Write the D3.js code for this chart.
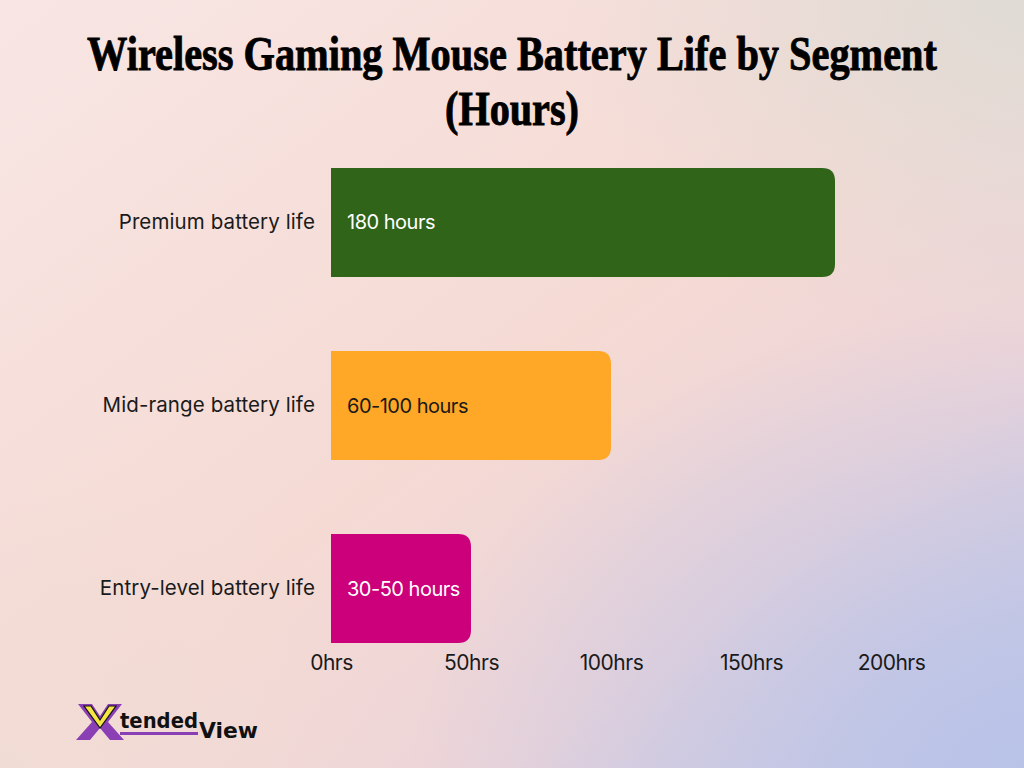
<!DOCTYPE html>
<html><head><meta charset="utf-8">
<script src="https://cdn.jsdelivr.net/npm/d3@7"></script>
<style>html,body{margin:0;padding:0;width:1024px;height:768px;overflow:hidden;}</style>
</head><body><div id="chart"></div>
<script>
const categories = ["Premium battery life", "Mid-range battery life", "Entry-level battery life"];
const values = [180, 100, 50];
const barLabels = ["180 hours", "60-100 hours", "30-50 hours"];
const barColors = ["#2f6419", "#ffa726", "#cc007a"];
const labelColors = ["#ffffff", "#1a1a1a", "#ffffff"];
const tickValues = [0, 50, 100, 150, 200];
const titleLines = ["Wireless Gaming Mouse Battery Life by Segment", "(Hours)"];

const W = 1024, H = 768;
const svg = d3.select("#chart").append("svg").attr("width", W).attr("height", H);
const defs = svg.append("defs");

const lg = defs.append("linearGradient").attr("id", "bg").attr("x1", 0).attr("y1", 0).attr("x2", 1).attr("y2", 1);
lg.append("stop").attr("offset", "0%").attr("stop-color", "#f8e6e4");
lg.append("stop").attr("offset", "50%").attr("stop-color", "#f5dad4");
lg.append("stop").attr("offset", "75%").attr("stop-color", "#ecd4d8");
lg.append("stop").attr("offset", "100%").attr("stop-color", "#c4c8e4");
svg.append("rect").attr("width", W).attr("height", H).attr("fill", "url(#bg)");

const rg = defs.append("radialGradient").attr("id", "rb").attr("cx", 1).attr("cy", 1).attr("r", 0.6);
rg.append("stop").attr("offset", "0%").attr("stop-color", "#b9c3e8").attr("stop-opacity", 1);
rg.append("stop").attr("offset", "100%").attr("stop-color", "#b9c3e8").attr("stop-opacity", 0);
svg.append("rect").attr("width", W).attr("height", H).attr("fill", "url(#rb)");

const rt = defs.append("radialGradient").attr("id", "rt").attr("cx", 1).attr("cy", 0).attr("r", 0.45);
rt.append("stop").attr("offset", "0%").attr("stop-color", "#dfdbd5").attr("stop-opacity", 1);
rt.append("stop").attr("offset", "100%").attr("stop-color", "#dfdbd5").attr("stop-opacity", 0);
svg.append("rect").attr("width", W).attr("height", H).attr("fill", "url(#rt)");

const rbl = defs.append("radialGradient").attr("id", "rbl").attr("cx", 0).attr("cy", 1).attr("r", 0.4);
rbl.append("stop").attr("offset", "0%").attr("stop-color", "#f1dcd5").attr("stop-opacity", 1);
rbl.append("stop").attr("offset", "100%").attr("stop-color", "#f1dcd5").attr("stop-opacity", 0);
svg.append("rect").attr("width", W).attr("height", H).attr("fill", "url(#rbl)");

// Title (condensed by horizontal scaling to the reference widths)
const titleWidths = [850, 134];
titleLines.forEach((line, i) => {
  const tg = svg.append("g");
  const t = tg.append("text")
    .attr("x", 0).attr("y", 70 + i * 55)
    .attr("text-anchor", "middle")
    .attr("font-family", "'Liberation Serif', 'DejaVu Serif', serif")
    .attr("font-weight", "bold")
    .attr("font-size", 48)
    .attr("fill", "#000")
    .attr("stroke", "#000")
    .attr("stroke-width", 0.9)
    .text(line);
  const natural = t.node().getComputedTextLength();
  const sx = titleWidths[i] / natural;
  tg.attr("transform", `translate(512,0) scale(${sx},1)`);
});

// Scales
const x = d3.scaleLinear().domain([0, 200]).range([331, 891]);
const y = d3.scaleBand().domain(categories).range([168, 643]).paddingInner(0.405).paddingOuter(0);

const r = 13;
function barPath(x0, y0, w, h) {
  const rr = Math.min(r, w / 2, h / 2);
  return `M${x0},${y0}H${x0 + w - rr}Q${x0 + w},${y0} ${x0 + w},${y0 + rr}V${y0 + h - rr}Q${x0 + w},${y0 + h} ${x0 + w - rr},${y0 + h}H${x0}Z`;
}

const g = svg.append("g");
g.selectAll("path.bar").data(categories).join("path")
  .attr("class", "bar")
  .attr("d", (d, i) => barPath(x(0), y(d), x(values[i]) - x(0), y.bandwidth()))
  .attr("fill", (d, i) => barColors[i]);

g.selectAll("text.val").data(categories).join("text")
  .attr("class", "val")
  .attr("x", x(0) + 16)
  .attr("y", d => y(d) + y.bandwidth() / 2)
  .attr("dy", "0.35em")
  .attr("font-family", "Inter, 'Noto Sans', sans-serif")
  .attr("font-size", 20)
  .attr("fill", (d, i) => labelColors[i])
  .style("letter-spacing", "-0.5px")
  .text((d, i) => barLabels[i]);

// Y axis (category labels)
const yAxis = d3.axisLeft(y).tickSize(0).tickPadding(16);
const ya = svg.append("g").attr("transform", `translate(${x(0)},0)`).call(yAxis);
ya.select(".domain").remove();
ya.selectAll("text").attr("font-family", "Inter, 'Noto Sans', sans-serif").attr("font-size", 20.5).attr("fill", "#1a1a1a").style("letter-spacing", "0.1px");

// X axis
const xAxis = d3.axisBottom(x).tickValues(tickValues).tickSize(0).tickPadding(12).tickFormat(d => d + "hrs");
const xa = svg.append("g").attr("transform", `translate(0,${643})`).call(xAxis);
xa.select(".domain").remove();
xa.selectAll("text").attr("font-family", "Inter, 'Noto Sans', sans-serif").attr("font-size", 21).attr("fill", "#1a1a1a").style("letter-spacing", "-0.5px");

// Logo
const logo = svg.append("g").attr("transform", "translate(78,704)");
logo.append("path").attr("d", "M0,0 H14 L22,12 L30,0 H44 L30,18 L46,36 H32 L22,24 L12,36 H-2 L14,18 Z").attr("fill", "#8a3fb5");
logo.append("path").attr("d", "M6,2 H13 L22,16 L31,2 H38 L22,24 Z").attr("fill", "#f5e642");
logo.append("path").attr("d", "M6,2 H13 L22,16 L31,2 H38 L22,24 Z").attr("fill", "none").attr("stroke", "#111").attr("stroke-width", 1.2);
logo.append("text").attr("x", 42).attr("y", 24).attr("font-family", "'DejaVu Sans', sans-serif").attr("font-weight", "bold").attr("font-size", 22).attr("fill", "#111")
  .attr("textLength", 78).attr("lengthAdjust", "spacingAndGlyphs").text("tended");
logo.append("rect").attr("x", 42).attr("y", 28).attr("width", 78).attr("height", 3).attr("fill", "#8a3fb5");
logo.append("text").attr("x", 121).attr("y", 34).attr("font-family", "'DejaVu Sans', sans-serif").attr("font-weight", "bold").attr("font-size", 21).attr("fill", "#111")
  .attr("textLength", 59).attr("lengthAdjust", "spacingAndGlyphs").text("View");
</script></body></html>
